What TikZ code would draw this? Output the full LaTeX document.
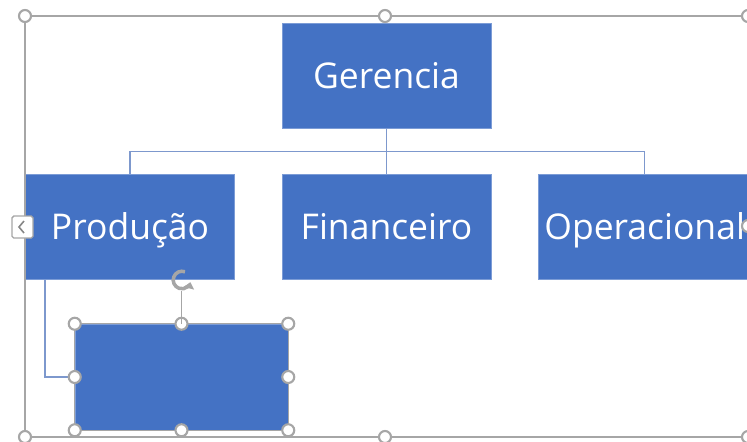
\documentclass[tikz,border=0pt]{standalone}
\usepackage{fontspec}
\setmainfont{Open Sans}
\usepackage{tikz}
\usetikzlibrary{arrows.meta, positioning}
\usepackage{xcolor}
\definecolor{boxcolor}{RGB}{68,114,196}
\definecolor{linkcolor}{RGB}{125,152,205}
\definecolor{selgray}{RGB}{166,166,166}

\begin{document}
\begin{tikzpicture}[
    x=0.02cm, y=-0.02cm,
    node distance=0.92cm and 0.94cm,
    box/.style={rectangle, fill=boxcolor, draw=boxcolor!70!white, line width=0.3pt, minimum width=4.18cm, minimum height=2.1cm, align=center, text=white, text height=14.4pt, text depth=0pt, font=\fontsize{20.2}{22}\selectfont},
    link/.style={draw=linkcolor, line width=0.8pt},
    selframe/.style={draw=selgray, line width=0.8pt},
    handle/.style={circle, draw=selgray, line width=1.2pt, fill=white, inner sep=0pt, minimum size=0.24cm}
]
\useasboundingbox (0,0) rectangle (747,441);
\node[box] (ger) at (386.5,75.5) {Gerencia};
\node[box, below=of ger] (fin) {Financeiro};
\node[box, left=of fin] (prod) {Produção};
\node[box, right=of fin] (oper) {Operacional};
\node[box, minimum width=4.26cm, minimum height=2.12cm] (novo) at (181.5,377) {};

\draw[link] (ger.south) -- ++(0,23) -| (prod.north);
\draw[link] (ger.south) -- ++(0,23) -| (oper.north);
\draw[link] (ger.south) -- (fin.north);
\draw[link] ([xshift=-1.7cm]prod.south) |- (novo.west);

% selection frame
\draw[selframe] (25,16) rectangle (748,437);
\foreach \px/\py in {25/16, 385/16, 748/16, 25/437, 385/437, 748/437, 748/226}
    \node[handle] at (\px,\py) {};
\draw[selframe, fill=white, rounded corners=1pt] (12,216) rectangle (33,238);
\draw[selgray!80!black, line width=0.9pt] (24,221) -- (19,227) -- (24,233);

% selected shape
\draw[selframe] (novo.north west) rectangle (novo.south east);
\foreach \anc in {north west, north, north east, west, east, south west, south, south east}
    \node[handle] at (novo.\anc) {};
\draw[selframe] (novo.north) -- ++(0,-33);
\draw[selgray, line width=2pt, -{Triangle[length=3.5pt, width=6pt]}] ([shift={(70:5pt)}]182,280) arc[start angle=70, end angle=345, radius=5pt];
\end{tikzpicture}
\end{document}
